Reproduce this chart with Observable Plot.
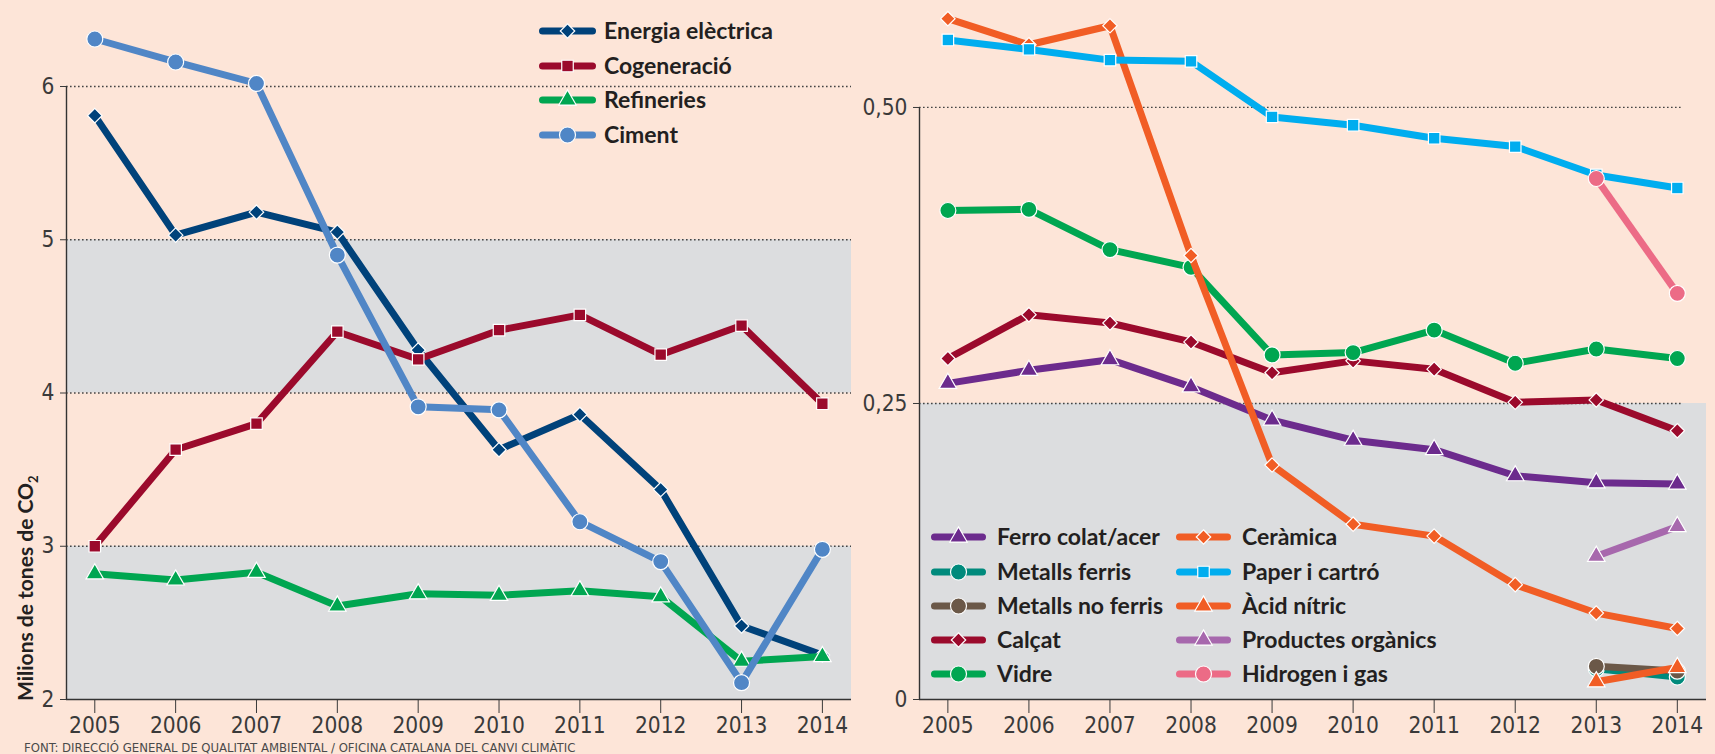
<!DOCTYPE html>
<html>
<head>
<meta charset="utf-8">
<script src="https://cdn.jsdelivr.net/npm/d3@7"></script>
<script src="https://cdn.jsdelivr.net/npm/@observablehq/plot@0.6"></script>
<style>
  html, body { margin: 0; padding: 0; background: #fde5d8; }
  #wrap { position: relative; width: 1715px; height: 754px; background: #fde5d8; overflow: hidden; }
  #left, #right, #overlay { position: absolute; top: 0; }
  #left { left: 0; width: 860px; }
  #right { left: 860px; width: 855px; }
  #overlay { left: 0; pointer-events: none; }
  svg { max-width: none !important; }
</style>
</head>
<body>
<div id="wrap">
  <div id="left"></div>
  <div id="right"></div>
  <svg id="overlay" width="1715" height="754"></svg>
</div>
<script>
// ---------- DATA ----------
const years = [2005, 2006, 2007, 2008, 2009, 2010, 2011, 2012, 2013, 2014];

// Left panel (milions de tones de CO2)
const energiaElectrica = [5.81, 5.03, 5.18, 5.05, 4.28, 3.63, 3.86, 3.37, 2.48, 2.29];
const cogeneracio      = [3.00, 3.63, 3.80, 4.40, 4.22, 4.41, 4.51, 4.25, 4.44, 3.93];
const refineries       = [2.82, 2.78, 2.83, 2.61, 2.69, 2.68, 2.71, 2.67, 2.25, 2.28];
const ciment           = [6.31, 6.16, 6.02, 4.90, 3.91, 3.89, 3.16, 2.90, 2.11, 2.98];

// Right panel
const ferroColatAcer    = [0.267, 0.278, 0.287, 0.264, 0.236, 0.219, 0.211, 0.189, 0.183, 0.182];
const metallsFerris     = [null, null, null, null, null, null, null, null, 0.026, 0.019];
const metallsNoFerris   = [null, null, null, null, null, null, null, null, 0.028, 0.024];
const calcat            = [0.288, 0.325, 0.318, 0.302, 0.276, 0.286, 0.279, 0.251, 0.253, 0.227];
const vidre             = [0.413, 0.414, 0.380, 0.365, 0.291, 0.293, 0.312, 0.284, 0.296, 0.288];
const ceramica          = [0.575, 0.553, 0.569, 0.375, 0.198, 0.148, 0.138, 0.097, 0.073, 0.060];
const paperCartro       = [0.557, 0.549, 0.540, 0.539, 0.492, 0.485, 0.474, 0.467, 0.443, 0.432];
const acidNitric        = [null, null, null, null, null, null, null, null, 0.015, 0.027];
const productesOrganics = [null, null, null, null, null, null, null, null, 0.121, 0.146];
const hidrogenGas       = [null, null, null, null, null, null, null, null, 0.440, 0.343];

const leftTicks = [2, 3, 4, 5, 6];
const leftGrid = [3, 4, 5, 6];
const leftBands = [[4, 5], [2, 3]];
const rightTicks = [0, 0.25, 0.5];
const rightGrid = [0.25, 0.5];
const rightBands = [[0, 0.25]];

const caption = "FONT: DIRECCIÓ GENERAL DE QUALITAT AMBIENTAL / OFICINA CATALANA DEL CANVI CLIMÀTIC";
const yLabel = "Milions de tones de CO";

// ---------- SERIES DEFINITIONS ----------
const leftSeries = [
  {name: "Energia elèctrica", values: energiaElectrica, color: "#00427a", symbol: "diamond2", r: 6.5},
  {name: "Cogeneració",       values: cogeneracio,      color: "#9b0a2c", symbol: "square",   r: 6.5},
  {name: "Refineries",        values: refineries,       color: "#00a651", symbol: "triangle", r: 6.5},
  {name: "Ciment",            values: ciment,           color: "#5086c6", symbol: "circle",   r: 8}
];
const rightSeries = [
  {name: "Ferro colat/acer",   values: ferroColatAcer,    color: "#6c2b8d", symbol: "triangle", r: 6.5},
  {name: "Metalls ferris",     values: metallsFerris,     color: "#008a7c", symbol: "circle",   r: 8},
  {name: "Metalls no ferris",  values: metallsNoFerris,   color: "#6b5848", symbol: "circle",   r: 8},
  {name: "Calçat",             values: calcat,            color: "#9b0a2c", symbol: "diamond2", r: 6.5},
  {name: "Vidre",              values: vidre,             color: "#00a651", symbol: "circle",   r: 8},
  {name: "Ceràmica",           values: ceramica,          color: "#f15d25", symbol: "diamond2", r: 6.5},
  {name: "Paper i cartró",     values: paperCartro,       color: "#00adef", symbol: "square",   r: 6.5},
  {name: "Àcid nítric",        values: acidNitric,        color: "#f15d25", symbol: "triangle", r: 6.5},
  {name: "Productes orgànics", values: productesOrganics, color: "#a768ad", symbol: "triangle", r: 6.5},
  {name: "Hidrogen i gas",     values: hidrogenGas,       color: "#ec6b86", symbol: "circle",   r: 8}
];

const tickFont = "'Liberation Sans Narrow', 'DejaVu Sans Condensed', 'Roboto Condensed', sans-serif";
const legendFont = "Lato, 'Open Sans', sans-serif";
const xDomain = [2004.65, 2014.36];

function rows(s) {
  return years.map((y, i) => ({series: s.name, year: y, value: s.values[i]})).filter(d => d.value != null);
}

function seriesMarks(list) {
  const marks = [];
  for (const s of list) {
    const data = rows(s);
    marks.push(Plot.line(data, {x: "year", y: "value", stroke: s.color, strokeWidth: 7, strokeLinejoin: "round", strokeLinecap: "butt"}));
    marks.push(Plot.dot(data, {x: "year", y: "value", symbol: s.symbol, r: s.r, fill: s.color, stroke: "white", strokeWidth: 1.2}));
  }
  return marks;
}

// ---------- LEFT CHART ----------
const leftPlot = Plot.plot({
  width: 860, height: 754,
  marginLeft: 66, marginRight: 9, marginTop: 10, marginBottom: 55,
  style: {background: "transparent", fontFamily: tickFont, fontSize: "22.5px", color: "#3a3a3a"},
  x: {domain: xDomain, ticks: years, tickSize: 14, tickPadding: 4, tickFormat: d => String(d), label: null},
  y: {domain: [2, 6.496], ticks: leftTicks, tickSize: 6, tickPadding: 6, tickFormat: d => String(d), label: null},
  marks: [
    Plot.rect(leftBands, {x1: () => xDomain[0], x2: () => xDomain[1], y1: d => d[0], y2: d => d[1], fill: "#dcdddf"}),
    Plot.ruleY(leftGrid, {stroke: "#444", strokeWidth: 1.3, strokeDasharray: "1.6,2.4"}),
    Plot.ruleX([xDomain[0]], {y1: leftTicks[0], y2: leftTicks[leftTicks.length - 1], stroke: "#333", strokeWidth: 1.4}),
    Plot.ruleY([leftTicks[0]], {stroke: "#333", strokeWidth: 1.6}),
    ...seriesMarks(leftSeries)
  ]
});
document.getElementById("left").appendChild(leftPlot);

// ---------- RIGHT CHART ----------
const rightPlot = Plot.plot({
  width: 855, height: 754,
  marginLeft: 59, marginRight: 9, marginTop: 10, marginBottom: 55,
  style: {background: "transparent", fontFamily: tickFont, fontSize: "22.5px", color: "#3a3a3a"},
  x: {domain: xDomain, ticks: years, tickSize: 14, tickPadding: 4, tickFormat: d => String(d), label: null},
  y: {domain: [0, 0.5819], ticks: rightTicks, tickSize: 6, tickPadding: 6,
      tickFormat: d => d === 0 ? "0" : d.toFixed(2).replace(".", ","), label: null},
  marks: [
    Plot.rect(rightBands, {x1: () => xDomain[0], x2: () => xDomain[1], y1: d => d[0], y2: d => d[1], fill: "#dcdddf"}),
    Plot.ruleY(rightGrid, {x1: xDomain[0], x2: 2014.07, stroke: "#444", strokeWidth: 1.3, strokeDasharray: "1.6,2.4"}),
    Plot.ruleX([xDomain[0]], {y1: rightTicks[0], y2: rightTicks[rightTicks.length - 1], stroke: "#333", strokeWidth: 1.4}),
    Plot.ruleY([rightTicks[0]], {stroke: "#333", strokeWidth: 1.6}),
    ...seriesMarks(rightSeries)
  ]
});
document.getElementById("right").appendChild(rightPlot);

// ---------- OVERLAY: legends, y label, caption ----------
const ov = d3.select("#overlay");

function symbolPath(type, r) {
  const map = {circle: d3.symbolCircle, square: d3.symbolSquare, triangle: d3.symbolTriangle, diamond2: d3.symbolDiamond2};
  return d3.symbol(map[type], Math.PI * r * r)();
}

function legendItem(s, x1, x2, tx, cy) {
  const g = ov.append("g");
  g.append("line").attr("x1", x1 + 3.5).attr("x2", x2 - 3.5).attr("y1", cy).attr("y2", cy)
    .attr("stroke", s.color).attr("stroke-width", 7).attr("stroke-linecap", "round");
  g.append("path").attr("d", symbolPath(s.symbol, s.r))
    .attr("transform", `translate(${(x1 + x2) / 2},${cy})`)
    .attr("fill", s.color).attr("stroke", "white").attr("stroke-width", 1.2);
  g.append("text").attr("x", tx).attr("y", cy).attr("dy", "0.36em")
    .attr("font-family", legendFont).attr("font-weight", 700).attr("font-size", 23)
    .attr("fill", "#231f20").text(s.name);
}

const leftRowsY = [31, 66, 100, 135];
leftSeries.forEach((s, i) => legendItem(s, 539, 596, 604, leftRowsY[i]));

const rightRowsY = [537, 572, 606, 640, 674];
rightSeries.forEach((s, i) => {
  const col = Math.floor(i / 5), row = i % 5;
  if (col === 0) legendItem(s, 931, 986, 997, rightRowsY[row]);
  else legendItem(s, 1176, 1231, 1242, rightRowsY[row]);
});

const yl = ov.append("text")
  .attr("transform", "translate(33,701) rotate(-90)")
  .attr("font-family", legendFont).attr("font-weight", 700).attr("font-size", 21)
  .attr("fill", "#231f20");
yl.append("tspan").text(yLabel);
yl.append("tspan").attr("font-size", 13).attr("dy", 5).text("2");

ov.append("text").attr("x", 24).attr("y", 752)
  .attr("font-family", tickFont).attr("font-size", 13).attr("fill", "#4a4a4a")
  .text(caption);
</script>
</body>
</html>
